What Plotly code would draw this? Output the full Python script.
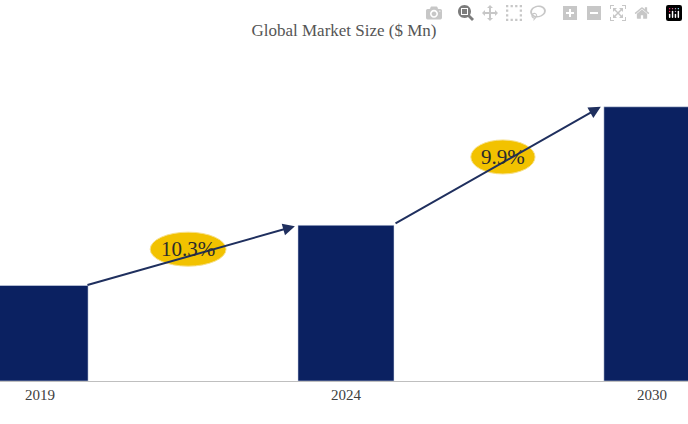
import plotly.graph_objects as go

years = ['2019', '2024', '2030']
market_size = [100, 163, 287]
cagr_labels = ['10.3%', '9.9%']

bar_color = '#0B2161'
serif = 'Liberation Serif, Times New Roman, serif'

fig = go.Figure(go.Bar(x=[0, 1, 2], y=market_size, width=0.314,
                       marker_color=bar_color, hoverinfo='skip'))

# growth arrows between bars
arrows = [((0.15, market_size[0]), (0.833, market_size[1] - 1)),
          ((1.157, market_size[1] + 1), (1.833, market_size[2]))]
for (x0, y0), (x1, y1) in arrows:
    fig.add_annotation(x=x1, y=y1, ax=x0, ay=y0, xref='x', yref='y', axref='x', ayref='y',
                       text='', showarrow=True, arrowhead=2, arrowsize=1.2,
                       arrowwidth=2, arrowcolor='#1F2F5E')

# CAGR ellipses
bubbles = [(0.484, 138, 0.124), (1.513, 234.5, 0.105)]
for (cx, cy, hw), lab in zip(bubbles, cagr_labels):
    fig.add_shape(type='circle', xref='x', yref='y', x0=cx - hw, x1=cx + hw,
                  y0=cy - 17.8, y1=cy + 17.8, fillcolor='#F2C200',
                  line=dict(color='#F7E08A', width=1))
    fig.add_annotation(x=cx, y=cy, text=lab, showarrow=False,
                       font=dict(family=serif, size=21, color='#2B2B2B'))

fig.update_layout(
    width=688, height=424, margin=dict(l=0, r=0, t=60, b=43, autoexpand=False),
    plot_bgcolor='white', paper_bgcolor='white', showlegend=False,
    title=dict(text='Global Market Size ($ Mn)', x=0.5, y=0.93, xanchor='center',
               yanchor='middle', font=dict(family=serif, size=17, color='#555555')),
    xaxis=dict(range=[-0.131, 2.118], tickvals=[0, 1, 2], ticktext=years,
               showline=True, linecolor='#BFBFBF', linewidth=1, showgrid=False,
               zeroline=False, automargin=False,
               tickfont=dict(family=serif, size=15, color='#404040')),
    yaxis=dict(range=[0, 336], visible=False),
)

fig.write_html('out.html', post_script="document.body.style.margin='0';")
